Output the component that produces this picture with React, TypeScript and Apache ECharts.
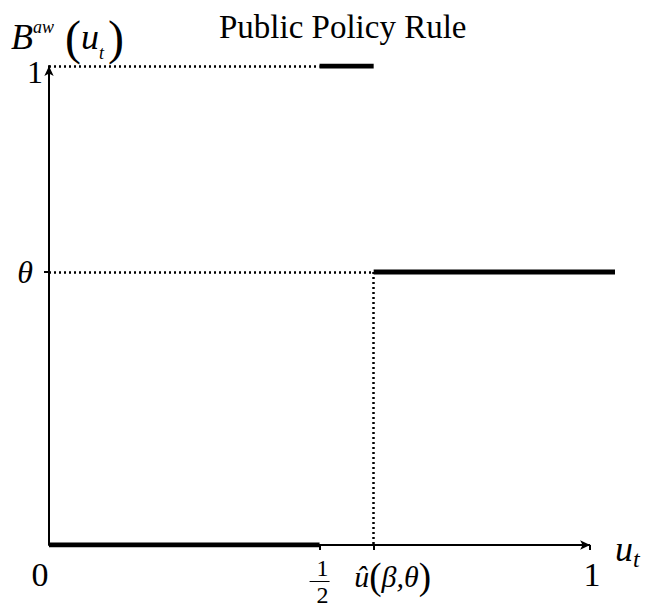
import React, { useEffect, useRef } from "react";
import * as echarts from "echarts";

// Key positions on the horizontal axis (u_t)
const HALF = 0.5;
const U_HAT = 0.6;
const X_END = 1;
const X_MAX = 1.046; // thick line runs a bit past the axis arrow
// Levels of the policy rule B^aw(u_t)
const THETA = 0.57;
const TOP = 1;

const xTickValues = [HALF, U_HAT, X_END];
const xLabelValues = [0, HALF, U_HAT, X_END];
const yTickValues = [THETA];
const yLabelValues = [THETA, TOP];

const lowSegment = [[0, 0], [HALF, 0]];
const highSegment = [[HALF, TOP], [U_HAT, TOP]];
const thetaSegment = [[U_HAT, THETA], [X_MAX, THETA]];

const FONT = "'Liberation Serif', 'Times New Roman', serif";

export default function App() {
  const ref = useRef<HTMLDivElement>(null);
  useEffect(() => {
    document.body.style.margin = "0";
    const chart = echarts.init(ref.current!, undefined, { renderer: "svg" });
    const thick = (data: number[][]) => ({
      type: "line",
      data,
      showSymbol: false,
      silent: true,
      lineStyle: { color: "#000", width: 5, cap: "butt" },
    });
    chart.setOption({
      animation: false,
      backgroundColor: "#fff",
      textStyle: { fontFamily: FONT, color: "#000" },
      title: {
        text: "Public Policy Rule",
        left: 214,
        top: 5,
        textStyle: { fontFamily: FONT, fontSize: 33, fontWeight: "normal", color: "#000" },
      },
      graphic: [
        {
          type: "text",
          left: 11,
          top: 12,
          style: {
            text: "{B|B}{sup|aw}{sp|}{par|(}{u|u}{sub|t}{par|)}",
            rich: {
              B: { fontFamily: FONT, fontSize: 36, fontStyle: "italic", verticalAlign: "middle", lineHeight: 50 },
              sup: { fontFamily: FONT, fontSize: 18, fontStyle: "italic", verticalAlign: "top", lineHeight: 50, padding: [6, 0, 0, 0] },
              sp: { width: 11 },
              par: { fontFamily: FONT, fontSize: 48, verticalAlign: "middle", lineHeight: 50 },
              u: { fontFamily: FONT, fontSize: 36, fontStyle: "italic", verticalAlign: "middle", lineHeight: 50 },
              sub: { fontFamily: FONT, fontSize: 18, fontStyle: "italic", verticalAlign: "bottom", lineHeight: 50, padding: [0, 4, 0, 0] },
            },
            fill: "#000",
          },
        },
      ],
      grid: { left: 49, top: 66, width: 566, height: 479 },
      xAxis: {
        type: "value",
        min: 0,
        max: X_MAX,
        splitLine: { show: false },
        axisLine: { show: false },
        axisTick: {
          show: true,
          customValues: xTickValues,
          length: 5,
          inside: false,
          lineStyle: { color: "#000", width: 2 },
        },
        axisLabel: {
          customValues: xLabelValues,
          margin: 12,
          color: "#000",
          fontFamily: FONT,
          fontSize: 34,
          formatter: (v: number) => {
            if (v === 0) return "{zero|0}";
            if (v === HALF) return "{n|1}\n{bar|}\n{d|2}";
            if (v === U_HAT) return "{gap|}{i|û}{p|(}{i|β,θ}{p|)}";
            if (v === X_END) return "{one|1}";
            return "";
          },
          rich: {
            zero: { fontFamily: FONT, fontSize: 34, padding: [0, 18, 0, 0] },
            one: { fontFamily: FONT, fontSize: 34, padding: [0, 0, 0, 4] },
            n: { fontFamily: FONT, fontSize: 24, lineHeight: 22, align: "center", padding: [0, 0, 0, 6] },
            bar: { width: 14, height: 1, backgroundColor: "#000", align: "center", lineHeight: 5, padding: [0, 0, 0, 6] },
            d: { fontFamily: FONT, fontSize: 24, lineHeight: 22, align: "center", padding: [0, 0, 0, 6] },
            gap: { width: 38, lineHeight: 38 },
            i: { fontFamily: FONT, fontSize: 30, fontStyle: "italic", lineHeight: 38 },
            p: { fontFamily: FONT, fontSize: 37, lineHeight: 38 },
          },
        },
        name: "{u|u}{t|t}",
        nameLocation: "end",
        nameGap: 0,
        nameTextStyle: {
          rich: {
            u: { fontFamily: FONT, fontSize: 36, fontStyle: "italic", padding: [8, 0, 0, 0] },
            t: { fontFamily: FONT, fontSize: 24, fontStyle: "italic", verticalAlign: "bottom", padding: [28, 0, 0, 0] },
          },
        },
      },
      yAxis: {
        type: "value",
        min: 0,
        max: TOP,
        splitLine: { show: false },
        axisLine: {
          show: true,
          onZero: false,
          symbol: ["none", "arrow"],
          symbolSize: [7, 10],
          lineStyle: { color: "#000", width: 2 },
        },
        axisTick: {
          show: true,
          customValues: yTickValues,
          length: 5,
          lineStyle: { color: "#000", width: 2 },
        },
        axisLabel: {
          customValues: yLabelValues,
          margin: 6,
          color: "#000",
          fontFamily: FONT,
          fontSize: 32,
          formatter: (v: number) => (v === THETA ? "{th|θ}" : "{one|1}"),
          rich: {
            th: { fontFamily: FONT, fontSize: 32, fontStyle: "italic", padding: [0, 10, 0, 0] },
            one: { fontFamily: FONT, fontSize: 32, padding: [12, 0, 0, 0] },
          },
        },
      },
      series: [
        {
          type: "line",
          data: [],
          silent: true,
          markLine: {
            silent: true,
            symbol: ["none", "none"],
            label: { show: false },
            lineStyle: { color: "#000", type: [2, 3], width: 2.5 },
            data: [
              [{ coord: [0, TOP] }, { coord: [HALF, TOP] }],
              [{ coord: [0, THETA] }, { coord: [U_HAT, THETA] }],
              [{ coord: [U_HAT, THETA] }, { coord: [U_HAT, 0] }],
            ],
          },
        },
        {
          type: "line",
          data: [],
          silent: true,
          markLine: {
            silent: true,
            symbol: ["none", "arrow"],
            symbolSize: [7, 10],
            label: { show: false },
            lineStyle: { color: "#000", type: "solid", width: 2 },
            data: [[{ coord: [0, 0] }, { coord: [X_END, 0] }]],
          },
        },
        thick(lowSegment),
        thick(highSegment),
        thick(thetaSegment),
      ],
    });
    return () => chart.dispose();
  }, []);
  return <div ref={ref} style={{ width: 647, height: 608 }} />;
}
